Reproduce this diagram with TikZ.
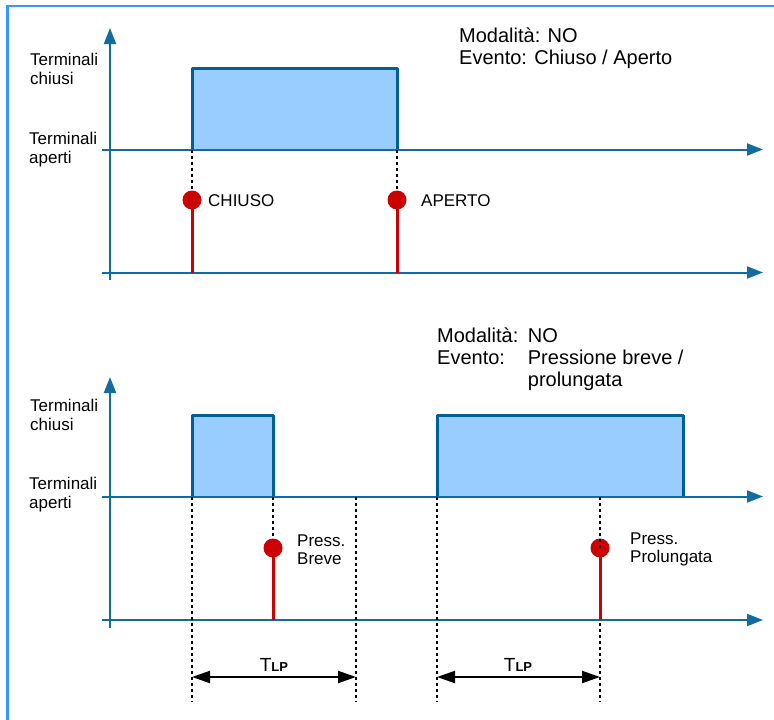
\documentclass[tikz,border=0pt]{standalone}
\usepackage{fontspec}
\setmainfont{Liberation Sans}
\usetikzlibrary{arrows.meta, positioning, calc}

\definecolor{axisblue}{RGB}{18,108,160}
\definecolor{edgeblue}{RGB}{0,96,150}
\definecolor{fillblue}{RGB}{153,204,255}
\definecolor{frameblue}{RGB}{51,153,255}
\definecolor{evred}{RGB}{204,0,0}

\begin{document}
\begin{tikzpicture}[
  x=1pt, y=-1pt,
  every node/.style={font=\fontsize{17}{19}\selectfont},
  border/.style={draw=frameblue, line width=2.4pt},
  axis/.style={draw=axisblue, line width=2pt, -{Triangle[length=16pt, width=12pt]}},
  pulse/.style={draw=edgeblue, line width=3pt, line join=round},
  guide/.style={draw=black, line width=2pt, dash pattern=on 3pt off 3pt},
  event/.style={draw=evred, line width=3pt},
  evdot/.style={circle, fill=evred, inner sep=0pt, minimum size=19pt},
  txt/.style={align=left, inner sep=0pt, anchor=base west},
  modetxt/.style={txt, font=\fontsize{20}{22}\selectfont},
  tspan/.style={{Triangle[length=18pt, width=12pt]}-{Triangle[length=18pt, width=12pt]}, line width=2pt}
]
\useasboundingbox (0,0) rectangle (774,720);

% Frame
\draw[border] (7.5,722) -- (7.5,6) -- (776,6);

% ---- Upper chart: Chiuso / Aperto ----
\coordinate (lvlA) at (110,149.5);
\coordinate (baseA) at (110,272.5);

\fill[fillblue] (192,68) rectangle (397,149.5);
\draw[pulse] (192,149.5) -- (192,68) -- (397,68) -- (397,149.5);

\draw[axis] (110,280) -- (110,28);
\draw[axis] (102,149.5) -- (763,149.5);
\draw[axis] (102,272.5) -- (763,272.5);

\node[evdot] (chiuso) at (192,200) {};
\node[evdot] (aperto) at (397,200) {};
\draw[guide] (chiuso |- lvlA) -- (chiuso);
\draw[guide] (aperto |- lvlA) -- (aperto);
\draw[event] (chiuso.center) -- (chiuso |- baseA);
\draw[event] (aperto.center) -- (aperto |- baseA);

% multi-line texts sit on the baseline of their last line
\node[txt] (chiusoA) at (30,84) {Terminali\\chiusi};
\node[txt] (apertiA) at (29,163) {Terminali\\aperti};
\node[txt] (chiusoLbl) at (208,206) {CHIUSO};
\node[txt] (apertoLbl) at (421,206) {APERTO};
\node[modetxt] (modeA) at (459,64) {Modalità: NO\\Evento: Chiuso / Aperto};

% ---- Lower chart: pressione breve / prolungata ----
\coordinate (lvlB) at (110,496.5);
\coordinate (baseB) at (110,620);
\coordinate (spanB) at (110,677);

\fill[fillblue] (192,415) rectangle (273,496.5);
\fill[fillblue] (437,415) rectangle (683,496.5);
\draw[pulse] (192,496.5) -- (192,415) -- (273,415) -- (273,496.5);
\draw[pulse] (437,496.5) -- (437,415) -- (683,415) -- (683,496.5);

\draw[axis] (110,628) -- (110,377);
\draw[axis] (102,496.5) -- (763,496.5);
\draw[axis] (102,620) -- (763,620);

\node[evdot] (breve) at (273,548) {};
\node[evdot] (prolung) at (600,548) {};
\coordinate (startB) at (192,702);
\coordinate (tlpB) at (356,702);
\coordinate (startL) at (437,702);

\draw[guide] (startB |- lvlB) -- (startB);
\draw[guide] (tlpB |- lvlB) -- (tlpB);
\draw[guide] (startL |- lvlB) -- (startL);
\draw[guide] (prolung |- lvlB) -- (prolung |- startB);
\draw[guide] (breve |- lvlB) -- (breve);
\draw[event] (breve.center) -- (breve |- baseB);
\draw[event] (prolung.center) -- (prolung |- baseB);

\draw[tspan] (startB |- spanB) -- (tlpB |- spanB);
\draw[tspan] (startL |- spanB) -- (prolung |- spanB);
\node[anchor=base, inner sep=0pt, font=\fontsize{19}{19}\selectfont] (tlp1) at (274,671)
  {T{\fontsize{13}{13}\selectfont\bfseries LP}};
\node[anchor=base, inner sep=0pt, font=\fontsize{19}{19}\selectfont] (tlp2) at (518,671)
  {T{\fontsize{13}{13}\selectfont\bfseries LP}};

\node[txt] (chiusoB) at (30,430) {Terminali\\chiusi};
\node[txt] (apertiB) at (29,508) {Terminali\\aperti};
\node[txt, font=\fontsize{17}{18}\selectfont] (breveLbl) at (297,564) {Press.\\Breve};
\node[txt, font=\fontsize{17}{18}\selectfont] (prolungLbl) at (630,562) {Press.\\Prolungata};
\node[modetxt] (modeB) at (437,386)
  {\makebox[90.7pt][l]{Modalità:}NO\\
   \makebox[90.7pt][l]{Evento:}Pressione breve /\\
   \hspace*{90.7pt}prolungata};

\end{tikzpicture}
\end{document}
